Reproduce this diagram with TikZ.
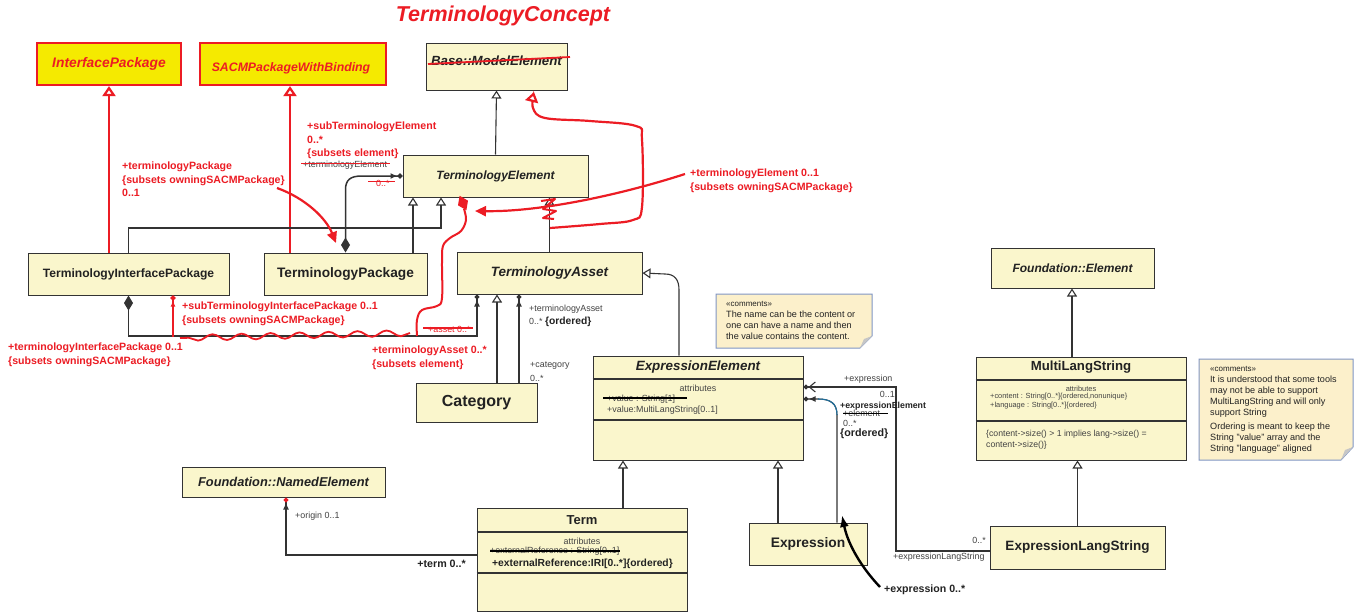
\documentclass[tikz,border=0pt]{standalone}
\usepackage{fontspec}
\setmainfont{Liberation Sans}
\usetikzlibrary{arrows.meta,decorations.pathmorphing}
\newcommand\fsz[1]{\fontsize{#1}{#1}\selectfont}
\definecolor{boxfill}{HTML}{FAF6CC}
\definecolor{boxline}{HTML}{333333}
\definecolor{hred}{HTML}{EC1C24}
\definecolor{hyel}{HTML}{F5EA00}
\definecolor{notefill}{HTML}{FCF0CB}
\definecolor{noteline}{HTML}{8096C4}
\definecolor{txt}{HTML}{222222}
\definecolor{assocblue}{HTML}{1F6E9C}
\begin{document}
\begin{tikzpicture}[x=1pt,y=-1pt,
  cls/.style={draw=boxline, fill=boxfill, line width=1pt, inner sep=0pt, text=txt},
  rcls/.style={draw=hred, fill=hyel, line width=2.2pt, inner sep=0pt, text=hred},
  lnk/.style={draw=boxline, line width=1.1pt},
  gen/.style={lnk, -{Triangle[length=8pt,width=10pt,fill=white]}},
  rgen/.style={draw=hred, line width=2.2pt, -{Triangle[length=10pt,width=13pt,fill=white]}},
  assoc/.style={lnk, -{Latex[length=7pt,width=6pt] Circle[length=5pt]}},
  comp/.style={lnk, {Diamond[length=15pt,width=9pt]}-{Latex[length=7pt,width=6pt] Circle[length=5pt]}},
  rarr/.style={draw=hred, line width=2.2pt, -{Triangle[length=11pt,width=10pt]}},
  lbl/.style={inner sep=0pt, text=txt!85, font=\fsz{8.9}, anchor=west},
  rlbl/.style={inner sep=0pt, text=hred, font=\fontsize{10.6}{13.7}\selectfont\bfseries, align=left, anchor=north west},
  rstrike/.style={draw=hred, line width=1.8pt},
  kstrike/.style={draw=black, line width=1.6pt},
  note/.style={draw=noteline, fill=notefill, line width=1pt},
  notetxt/.style={inner sep=0pt, text=txt, align=left, anchor=north west, font=\fontsize{9.1}{11}\selectfont}
]
\useasboundingbox (0,0) rectangle (1360,613);
\fill[white] (0,0) rectangle (1360,613);

% title
\node[inner sep=0pt, text=hred, font=\fsz{21.5}\bfseries\itshape] (title) at (503,16) {TerminologyConcept};

% classes
\node[rcls, minimum width=144, minimum height=42, font=\fsz{13.8}\bfseries\itshape] (ip) at (109,64) {InterfacePackage};
\node[rcls, minimum width=186, minimum height=42] (sp) at (293,64) {};
\node[inner sep=0pt, text=hred, font=\fsz{12.3}\bfseries\itshape] (sptxt) at (291,68) {SACMPackageWithBinding};
\node[cls, minimum width=141, minimum height=47] (me) at (496.5,66.5) {};
\node[inner sep=0pt, text=txt, font=\fsz{13.3}\bfseries\itshape] (metxt) at (496.5,61) {Base::ModelElement};
\node[cls, minimum width=185, minimum height=42, font=\fsz{12}\bfseries\itshape] (te) at (495.5,176) {TerminologyElement};
\node[cls, minimum width=201, minimum height=42, font=\fsz{12.1}\bfseries] (tip) at (128.5,274) {TerminologyInterfacePackage};
\node[cls, minimum width=163, minimum height=42, font=\fsz{13.7}\bfseries] (tp) at (345.5,274) {TerminologyPackage};
\node[cls, minimum width=185, minimum height=42, font=\fsz{13.5}\bfseries\itshape] (ta) at (549.5,273) {TerminologyAsset};
\node[cls, minimum width=121, minimum height=39, font=\fsz{16}\bfseries] (cat) at (476.5,402.5) {Category};
\node[cls, minimum width=203, minimum height=30, font=\fsz{12.8}\bfseries\itshape] (ne) at (283.5,482) {Foundation::NamedElement};
\node[cls, minimum width=118, minimum height=42, font=\fsz{13.8}\bfseries] (ex) at (808,544) {Expression};
\node[cls, minimum width=175, minimum height=43, font=\fsz{13.5}\bfseries] (els) at (1077.5,547.5) {ExpressionLangString};
\node[cls, minimum width=163, minimum height=40, font=\fsz{12}\bfseries\itshape] (fe) at (1072.5,268) {Foundation::Element};

% ExpressionElement
\node[cls, minimum width=210, minimum height=104] (ee) at (698,408) {};
\draw[lnk] (ee.west |- 0,379) -- (ee.east |- 0,379);
\draw[lnk] (ee.west |- 0,420) -- (ee.east |- 0,420);
\node[inner sep=0pt, text=txt, font=\fsz{13.4}\bfseries\itshape] (eet) at (698,367) {ExpressionElement};
\node[inner sep=0pt, text=txt!85, font=\fsz{8.9}] (eea) at (698,388) {attributes};
\node[lbl] (eev1) at (607,399) {+value : String[1]};
\draw[kstrike] ([xshift=-4pt,yshift=1pt]eev1.west) -- ([xshift=12pt,yshift=1pt]eev1.east);
\node[lbl] (eev2) at (607,410) {+value:MultiLangString[0..1]};

% Term
\node[cls, minimum width=210, minimum height=103] (term) at (582,559.5) {};
\draw[lnk] (term.west |- 0,532) -- (term.east |- 0,532);
\draw[lnk] (term.west |- 0,573) -- (term.east |- 0,573);
\node[inner sep=0pt, text=txt, font=\fsz{13}\bfseries] (termt) at (582,520) {Term};
\node[inner sep=0pt, text=txt!85, font=\fsz{8.9}] (terma) at (582,541) {attributes};
\node[lbl] (termv1) at (490,551.5) {+externalReference : String[0..1]};
\draw[kstrike] ([yshift=0.5pt]termv1.west) -- ([yshift=0.5pt]termv1.east);
\node[lbl, text=txt, font=\fsz{10.3}\bfseries] (termv2) at (492,563.5) {+externalReference:IRI[0..*]\{ordered\}};

% MultiLangString
\node[cls, minimum width=210, minimum height=103] (mls) at (1081,408.5) {};
\draw[lnk] (mls.west |- 0,380) -- (mls.east |- 0,380);
\draw[lnk] (mls.west |- 0,421) -- (mls.east |- 0,421);
\node[inner sep=0pt, text=txt, font=\fsz{13.2}\bfseries] (mlst) at (1081,367) {MultiLangString};
\node[inner sep=0pt, text=txt!85, font=\fsz{7.4}] (mlsa) at (1081,389) {attributes};
\node[lbl, font=\fsz{7.4}] (mlsv1) at (990,397) {+content : String[0..*]\{ordered,nonunique\}};
\node[lbl, font=\fsz{7.4}] (mlsv2) at (990,406) {+language : String[0..*]\{ordered\}};
\node[notetxt, text=txt!85, font=\fontsize{8.7}{11.5}\selectfont] (mlsc) at (986,429.5) {\{content->size() > 1 implies lang->size() =\\content->size()\}};

% notes
\path[note] (716,294) -- (872,294) -- (872,336) -- (860,348) -- (716,348) -- cycle;
\fill[gray!45] (872,336) -- (860,348) -- (864,339) -- cycle;
\node[notetxt] (c1t) at (726,301.5) {{\fsz{8}«comments»}\\The name can be the content or\\one can have a name and then\\the value contains the content.};
\path[note] (1199,359) -- (1353,359) -- (1353,447) -- (1341,460) -- (1199,460) -- cycle;
\fill[gray!45] (1353,447) -- (1341,460) -- (1345,450) -- cycle;
\node[notetxt] (c2t) at (1210,366.5) {{\fsz{8}«comments»}\\It is understood that some tools\\may not be able to support\\MultiLangString and will only\\support String\\[3pt]Ordering is meant to keep the\\String "value" array and the\\String "language" aligned};

% generalizations
\draw[rgen] (tip.north -| ip.south) -- (ip.south);
\draw[rgen] (tp.north -| 290,0) -- (sp.south -| 290,0);
\draw[gen] (te.north) -- (me.south);
\draw[gen] (tip.north) |- (441,228) -- (te.south -| 441,0);
\draw[gen] (tp.north -| 413,0) -- (te.south -| 413,0);
\draw[gen] (ta.north) -- (te.south -| ta.north);
\draw[gen] (cat.north -| 497,0) -- (ta.south -| 497,0);
\draw[gen] (ee.north -| 679,0) -- (679,290) .. controls (679,280) and (675,274) .. (665,274) -- (ta.east);
\draw[gen] (term.north -| 623,0) -- (ee.south -| 623,0);
\draw[gen] (ex.north -| 778,0) -- (ee.south -| 778,0);
\draw[gen] (mls.north -| 1072,0) -- (fe.south -| 1072,0);
\draw[gen] (els.north) -- (mls.south -| els.north);

% associations
\draw[comp, line width=1.5pt] (tp.north) -- (345.5,190) .. controls (345.5,180) and (350,176) .. (362,176) -- (te.west);
\draw[comp] (tip.south) -- (tip.south |- 0,336) -| (ta.south -| 477,0);
\draw[assoc] (cat.north -| 519,0) -- (ta.south -| 519,0);
\draw[assoc] (ex.north -| 837,0) -- (837,415) .. controls (837,403) and (830,399) .. (818,399) -- (ee.east |- 0,399);
\draw[draw=assocblue, line width=1.1pt] (837,415) .. controls (837,403) and (830,399) .. (818,399);
\draw[lnk, -{Straight Barb[length=6pt,width=10pt] Circle[length=5pt]}] (els.west |- 0,551) -| (896,387) -- (ee.east |- 0,387);
\draw[lnk, -{Latex[length=7pt,width=6pt] Circle[length=5pt,color=hred]}] (term.west |- 0,555) -| (ne.south -| 286,0);

% black labels
\node[lbl] (l1) at (529,309) {+terminologyAsset};
\node[lbl] (l2) at (529,322) {0..* {\fsz{10.3}\bfseries\color{txt}\{ordered\}}};
\node[lbl] (l3) at (530,366) {+category};
\node[lbl] (l4) at (530,378) {0..*};
\node[lbl] (l5) at (844,379) {+expression};
\node[lbl, anchor=east] (l6) at (895,394) {0..1};
\node[lbl, text=txt, font=\fsz{8.8}\bfseries] (l7) at (840,406) {+expressionElement};
\node[lbl] (l8) at (843,413.5) {+element};
\draw[kstrike] (l8.west) -- ([xshift=8pt]l8.east);
\node[lbl] (l9) at (843,423) {0..*};
\node[lbl, text=txt, font=\fsz{10.7}\bfseries] (l10) at (840,434) {\{ordered\}};
\node[lbl, anchor=east] (l11) at (986,540) {0..*};
\node[lbl] (l12) at (893,557) {+expressionLangString};
\node[lbl] (l13) at (295,516) {+origin 0..1};
\node[lbl, anchor=east, text=txt, font=\fsz{10.7}\bfseries] (l14) at (466,564) {+term 0..*};
\node[lbl, text=txt, font=\fsz{10.6}\bfseries] (l15) at (884,590) {+expression 0..*};
\coordinate (bs) at (880,587);
\coordinate (be) at (842,515);
\draw[line width=2.4pt, -{Latex[length=12pt,width=9pt]}] (bs) .. controls (862,568) and (848,545) .. (be);

% struck labels
\node[lbl] (l16) at (303,165) {+terminologyElement};
\draw[rstrike] ([xshift=-2pt,yshift=1.5pt]l16.west) -- ([xshift=3pt,yshift=1.5pt]l16.east);
\node[lbl, text=hred] (l17) at (376,183) {0..*};
\draw[rstrike] ([xshift=-8pt,yshift=1.5pt]l17.west) -- ([xshift=5pt,yshift=1.5pt]l17.east);
\node[lbl, text=hred] (l18) at (428,329) {+asset 0..*};
\draw[rstrike] ([xshift=-5pt,yshift=1pt]l18.west) -- ([xshift=2pt,yshift=1pt]l18.east);

% red annotations
\draw[hred, line width=1.8pt] (428,64) -- (570,57);
\node[rlbl] (rl1) at (307,121.5) {+subTerminologyElement\\0..*\\\{subsets element\}};
\node[rlbl] (rl2) at (122,161.5) {+terminologyPackage\\\{subsets owningSACMPackage\}\\0..1};
\node[rlbl] (rl3) at (690,168.5) {+terminologyElement 0..1\\\{subsets owningSACMPackage\}};
\node[rlbl] (rl4) at (182,301.5) {+subTerminologyInterfacePackage 0..1\\\{subsets owningSACMPackage\}};
\node[rlbl] (rl5) at (8,342.5) {+terminologyInterfacePackage 0..1\\\{subsets owningSACMPackage\}};
\node[rlbl] (rl6) at (372,345.5) {+terminologyAsset 0..*\\\{subsets element\}};

\coordinate (r2s) at (277,188);
\coordinate (r2e) at (336,243);
\draw[rarr] (r2s) .. controls (305,198) and (326,218) .. (r2e);
\coordinate (r3s) at (685,174);
\coordinate (r3e) at (475,211);
\draw[rarr] (r3s) .. controls (620,195) and (540,212) .. (r3e);
\draw[rgen] plot[smooth, tension=0.6] coordinates {(550,228) (600,224) (633,220) (642,207) (642,140) (636,126) (590,121) (545,118) (533,108) (534,92)};
\draw[hred, line width=2pt, line join=round] (541,201) -- (555,199) -- (543,209) -- (556,211) -- (543,218) -- (554,219);
\fill[hred, rotate around={25:(463,203)}] (463,195) -- (468.5,203) -- (463,211) -- (457.5,203) -- cycle;
\draw[hred, line width=2pt] plot[smooth, tension=0.6] coordinates {(464,209) (466,220) (461,231) (450,238) (443,246) (442,262) (442,298) (437,306) (422,310) (417,320) (417,336)};
\draw[hred, line width=1.8pt, decorate, decoration={snake, amplitude=3pt, segment length=29pt}] (410,333) -- (180,338);
\coordinate (r4s) at (173,337);
\draw[hred, line width=2pt, -{Latex[length=6pt,width=5pt] Circle[length=5pt]}] (r4s) -- (tip.south -| 173,0);
\end{tikzpicture}
\end{document}
